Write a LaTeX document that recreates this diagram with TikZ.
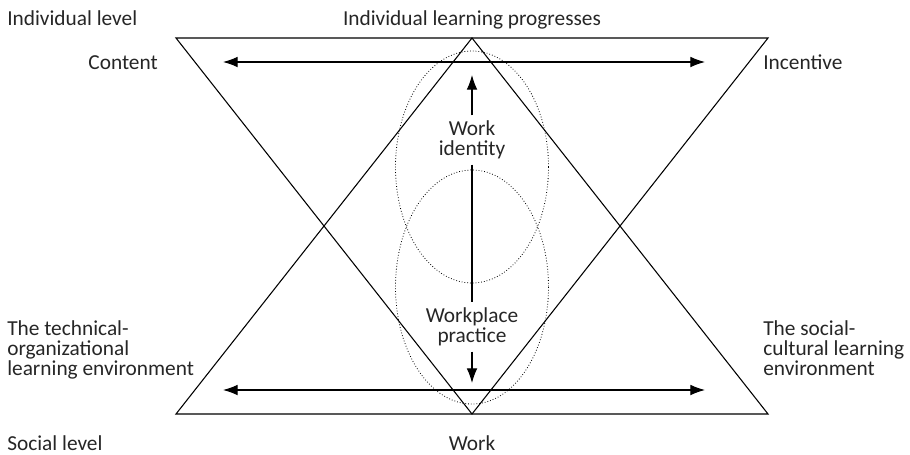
\documentclass[tikz,border=0pt]{standalone}
\usepackage{fontspec}
\setmainfont{Carlito}
\usetikzlibrary{arrows.meta}
\begin{document}
\begin{tikzpicture}[x=0.75pt, y=-0.75pt,
		txt/.style={font=\fontsize{16}{15}\selectfont, inner sep=0pt, text=black!85},
		tri/.style={line width=0.8pt},
		dbl/.style={{Latex[length=11pt,width=8pt]}-{Latex[length=11pt,width=8pt]}, line width=0.8pt},
		one/.style={-{Latex[length=11pt,width=8pt]}, line width=0.8pt},
		dots/.style={line width=0.6pt, dash pattern=on 0.6pt off 1.5pt}]
	\useasboundingbox (0,0) rectangle (910,454);
	% the two triangles
	\coordinate (a) at (176,38);
	\coordinate (b) at (768,38);
	\coordinate (c) at (472,414);
	\coordinate (d) at (176,414);
	\coordinate (e) at (768,414);
	\coordinate (f) at (472,38);
	\draw[tri] (a) -- (b) -- (c) -- cycle;
	\draw[tri] (d) -- (e) -- (f) -- cycle;
	% dotted ellipses
	\draw[dots] (472,167) ellipse [x radius=76.5, y radius=116];
	\draw[dots] (472,287) ellipse [x radius=76.5, y radius=117];
	% labels
	\node[txt, anchor=base west] (indiv) at (7,25) {Individual level};
	\node[txt, anchor=base] (progress) at (472,25) {Individual learning progresses};
	\node[txt, anchor=base east] (content) at (158,69) {Content};
	\node[txt, anchor=base west] (incentive) at (763,69) {Incentive};
	\node[txt, anchor=north west, align=left] (techorg) at (7,320) {The technical-\\organizational\\learning environment};
	\node[txt, anchor=north west, align=left] (soccult) at (763,320) {The social-\\cultural learning\\environment};
	\node[txt, anchor=base west] (social) at (7,450) {Social level};
	\node[txt, anchor=base] (work) at (472,450) {Work};
	\node[txt, align=center, inner sep=4pt] (identity) at (472,140) {Work\\identity};
	\node[txt, align=center, inner sep=4pt] (practice) at (472,327) {Workplace\\practice};
	% arrows
	\coordinate (tipa) at (472,75);
	\coordinate (tipb) at (472,383);
	\coordinate (l1) at (223,62);
	\coordinate (r1) at (705,62);
	\coordinate (l2) at (223,390);
	\coordinate (r2) at (705,390);
	\draw[dbl] (l1) -- (r1);
	\draw[dbl] (l2) -- (r2);
	\draw[one] (identity) -- (tipa);
	\draw[tri] (identity) -- (practice);
	\draw[one] (practice) -- (tipb);
\end{tikzpicture}
\end{document}
